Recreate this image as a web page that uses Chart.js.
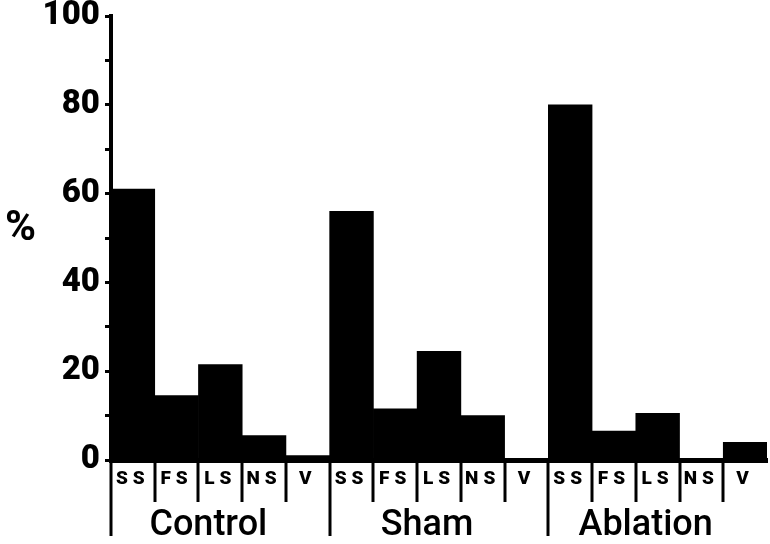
<!DOCTYPE html>
<html>
<head>
<meta charset="utf-8">
<script src="https://cdn.jsdelivr.net/npm/chart.js@4.4.1/dist/chart.umd.min.js"></script>
<style>
  html, body { margin: 0; padding: 0; background: #fff; }
  #wrap { width: 770px; height: 544px; position: relative; }
</style>
</head>
<body>
<div id="wrap"><canvas id="myChart"></canvas></div>
<script>
// sleep-stage percentages per group
const groups = ["Control", "Sham", "Ablation"];
const stages = ["SS", "FS", "LS", "NS", "V"];
const control = [61, 14.5, 21.5, 5.5, 1];
const sham = [56, 11.5, 24.5, 10, 0];
const ablation = [80, 6.5, 10.5, 0, 4];
const yTicks = [0, 20, 40, 60, 80, 100];

const labels = groups.flatMap(() => stages);
const values = [...control, ...sham, ...ablation];

// separators under the baseline, group names and the % sign
const extras = {
  id: "extras",
  afterDatasetsDraw(chart) {
    chart.ctx.letterSpacing = "5px";
  },
  afterDraw(chart) {
    const {ctx} = chart;
    const x = chart.scales.x, y = chart.scales.y;
    ctx.save();
    ctx.letterSpacing = "0px";
    const base = y.getPixelForValue(0);
    const half = (x.getPixelForValue(1) - x.getPixelForValue(0)) / 2;
    ctx.strokeStyle = "#000";
    ctx.lineWidth = 3;
    for (let i = 0; i < labels.length; i++) {
      const px = Math.round(x.getPixelForValue(i) - half);
      const len = i % stages.length === 0 ? 76 : 42;
      ctx.beginPath();
      ctx.moveTo(px, base);
      ctx.lineTo(px, base + len);
      ctx.stroke();
    }
    ctx.fillStyle = "#000";
    ctx.font = "500 36px Roboto";
    ctx.textAlign = "center";
    ctx.textBaseline = "middle";
    groups.forEach((g, gi) => {
      const left = x.getPixelForValue(gi * stages.length) - half;
      const right = x.getPixelForValue(gi * stages.length + stages.length - 1) + half;
      ctx.fillText(g, (left + right) / 2 - 12, base + 66);
    });
    ctx.font = "bold 42px Roboto";
    ctx.textAlign = "left";
    ctx.fillText("%", 5, y.getPixelForValue(52));
    ctx.restore();
  }
};

const data = {
  labels: labels,
  datasets: [{
    data: values,
    backgroundColor: "#000",
    borderWidth: 0,
    barPercentage: 1,
    categoryPercentage: 1
  }]
};

const config = {
  type: "bar",
  data,
  options: {
    responsive: false,
    animation: false,
    layout: { padding: { top: 0, right: 3, left: 0, bottom: 0 } },
    plugins: { legend: { display: false }, tooltip: { enabled: false } },
    scales: {
      x: {
        type: "category",
        afterFit(s) { s.height = 84; },
        grid: { display: true, drawOnChartArea: false, drawTicks: false, color: "rgba(0,0,0,0)" },
        border: { display: true, color: "#000", width: 5 },
        ticks: {
          z: 1,
          autoSkip: false,
          maxRotation: 0,
          padding: 8,
          color: "#000",
          font: { family: "Roboto", weight: "900", size: 19 }
        }
      },
      y: {
        min: 0,
        max: 100,
        afterFit(s) { s.width = 111; s.paddingTop = 16; s.paddingBottom = 0; },
        grid: { drawOnChartArea: false, drawTicks: true, tickLength: 6, color: "#000", lineWidth: 3 },
        border: { display: true, color: "#000", width: 4 },
        ticks: {
          stepSize: 10,
          padding: 5,
          color: "#000",
          font: { family: "Roboto", weight: "900", size: 33 },
          callback: v => (yTicks.includes(v) ? v : "")
        }
      }
    }
  },
  plugins: [extras]
};

const canvas = document.getElementById("myChart");
canvas.width = 770;
canvas.height = 544;
const myChart = new Chart(canvas, config);
</script>
</body>
</html>
